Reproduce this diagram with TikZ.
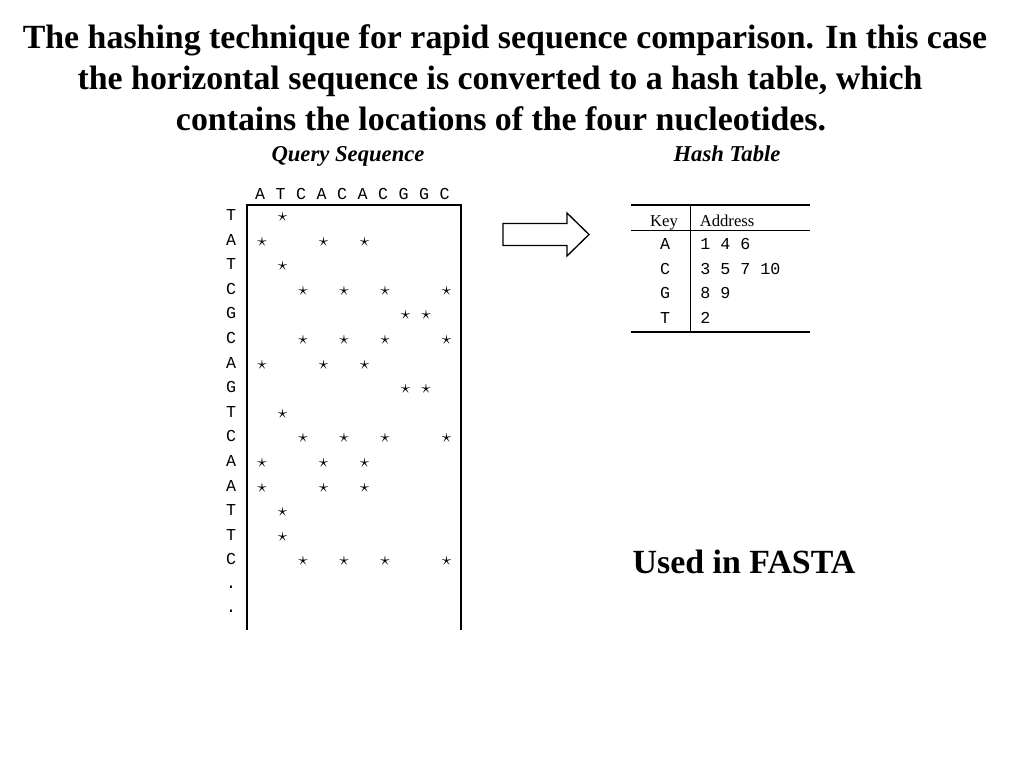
\documentclass[tikz,border=0pt]{standalone}
\usepackage{fontspec}
\setmainfont{Liberation Serif}
\setmonofont{Liberation Mono}
\usepackage{amssymb}

\begin{document}
\begin{tikzpicture}[x=0.75pt,y=0.75pt,yscale=-1,xscale=1,
  seq/.style={inner sep=0pt,font=\fontsize{12.5}{14}\selectfont\ttfamily},
  hit/.style={inner sep=0pt,font=\fontsize{14}{16}\selectfont},
  heading/.style={anchor=base,inner sep=0pt,font=\fontsize{17}{20}\selectfont\bfseries\itshape},
  bigtext/.style={anchor=base,inner sep=0pt,font=\fontsize{25.4}{30}\selectfont\bfseries},
  colhead/.style={anchor=base,inner sep=0pt,font=\fontsize{12.5}{14}\selectfont},
  rule/.style={line width=1pt}]
\useasboundingbox (0,0) rectangle (1024,768);

% Text Node
\node (title1) at (505,48) [bigtext] {The hashing technique for rapid sequence comparison. In this case};
% Text Node
\node (title2) at (500,89) [bigtext] {the horizontal sequence is converted to a hash table, which};
% Text Node
\node (title3) at (501,130) [bigtext] {contains the locations of the four nucleotides.};

% Text Node
\node (query) at (348,161) [heading] {Query Sequence};
% Text Node
\node (hash) at (727,161) [heading] {Hash Table};

%Shape: dot matrix frame
\draw [rule] (247,630) -- (247,205) -- (461,205) -- (461,630);

% horizontal sequence
\foreach \ch [count=\i] in {A,T,C,A,C,A,C,G,G,C}
  \node (q\i) at (239.5+20.5*\i,194) [seq] {\ch};

% vertical sequence and matches
\foreach \ch/\cols [count=\j] in {T/{2},A/{1,4,6},T/{2},C/{3,5,7,10},G/{8,9},C/{3,5,7,10},A/{1,4,6},G/{8,9},T/{2},C/{3,5,7,10},A/{1,4,6},A/{1,4,6},T/{2},T/{2},C/{3,5,7,10}} {
  \node (s\j) at (231,215+24.6*\j-24.6) [seq] {\ch};
  \foreach \c in \cols
    \node (m\j-\c) at (241.5+20.5*\c,217+24.6*\j-24.6) [hit] {$\star$};
}
\node (s16) at (231,587) [seq] {.};
\node (s17) at (231,611.5) [seq] {.};

%Shape: Right Arrow
\draw [rule] (503,223.5) -- (567,223.5) -- (567,213) -- (589,234.5) -- (567,256) -- (567,245.5) -- (503,245.5) -- cycle;

%Shape: hash table rules
\draw [rule] (631,205) -- (810,205);
\draw [rule] (631,230.5) -- (810,230.5);
\draw [rule] (631,332) -- (810,332);
\draw [rule] (690.5,205) -- (690.5,332);

% Text Node
\node (keyhead) at (664,226) [colhead] {Key};
% Text Node
\node (addrhead) at (699.5,226) [colhead,anchor=base west] {Address};

\foreach \k/\addr [count=\r] in {A/1 4 6,C/3 5 7 10,G/8 9,T/2} {
  \node (key\r) at (665,244+24.6*\r-24.6) [seq] {\k};
  \node (addr\r) at (700,244+24.6*\r-24.6) [seq,anchor=west] {\addr};
}

% Text Node
\node (fasta) at (744,573) [bigtext] {Used in FASTA};

\end{tikzpicture}
\end{document}
